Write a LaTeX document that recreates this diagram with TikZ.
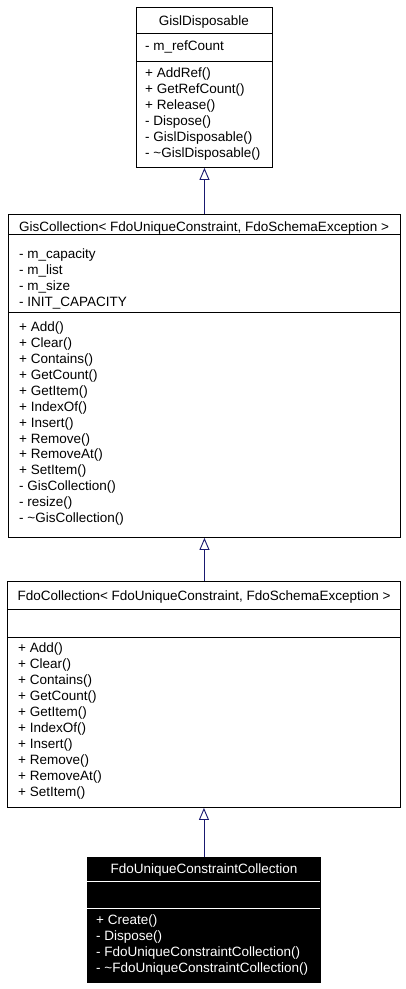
\documentclass[tikz,border=0pt]{standalone}
\usepackage{fontspec}
\setmainfont{Liberation Sans}
\usetikzlibrary{arrows.meta}
\definecolor{edgecol}{HTML}{191970}
\tikzset{
  box/.style={draw=black, line width=0.9pt, inner sep=0pt, anchor=north west},
  dbox/.style={draw=black, fill=black, line width=0.9pt, inner sep=0pt, anchor=north west},
  ttl/.style={font=\fontsize{13.5}{15.9}\selectfont, inner sep=0pt, anchor=base},
  mem/.style={font=\fontsize{13.5}{15.9}\selectfont, inner sep=0pt, anchor=north west, align=left},
  memw/.style={font=\fontsize{13.5}{16}\selectfont, inner sep=0pt, anchor=north west, align=left},
  inh/.style={draw=edgecol, line width=0.9pt, -{Triangle[open, length=12pt, width=10pt, line width=0.9pt]}}
}
\begin{document}
\begin{tikzpicture}[x=1pt,y=-1pt]
\useasboundingbox (0,0) rectangle (405,989);
% Box 1
\node[box, minimum width=136pt, minimum height=160pt] (b1) at (136,7) {};
\draw[line width=0.9pt] (136,33) -- (272,33) (136,61) -- (272,61);
\node[ttl] (b1t) at (204,25) {GislDisposable};
\node[mem] (b1a) at (145,39.4) {\strut- m\_refCount};
\node[mem] (b1m) at (145,66.4) {\strut+ AddRef()\\+ GetRefCount()\\+ Release()\\- Dispose()\\- GislDisposable()\\- \textasciitilde GislDisposable()};
% Box 2
\node[box, minimum width=392pt, minimum height=323pt] (b2) at (8,214) {};
\draw[line width=0.9pt] (8,234) -- (400,234) (8,312) -- (400,312);
\node[ttl] (b2t) at (204,231) {GisCollection< FdoUniqueConstraint, FdoSchemaException >};
\node[mem] (b2a) at (19,247.6) {\strut- m\_capacity\\- m\_list\\- m\_size\\- INIT\_CAPACITY};
\node[mem] (b2m) at (19,320.4) {\strut+ Add()\\+ Clear()\\+ Contains()\\+ GetCount()\\+ GetItem()\\+ IndexOf()\\+ Insert()\\+ Remove()\\+ RemoveAt()\\+ SetItem()\\- GisCollection()\\- resize()\\- \textasciitilde GisCollection()};
% Box 3
\node[box, minimum width=393pt, minimum height=226pt] (b3) at (7,581) {};
\draw[line width=0.9pt] (7,609) -- (400,609) (7,637) -- (400,637);
\node[ttl] (b3t) at (204,600) {FdoCollection< FdoUniqueConstraint, FdoSchemaException >};
\node[memw] (b3m) at (18,641.3) {\strut+ Add()\\+ Clear()\\+ Contains()\\+ GetCount()\\+ GetItem()\\+ IndexOf()\\+ Insert()\\+ Remove()\\+ RemoveAt()\\+ SetItem()};
% Box 4
\node[dbox, minimum width=233pt, minimum height=125pt] (b4) at (87,857) {};
\draw[white, line width=0.9pt] (87,881) -- (320,881) (87,908) -- (320,908);
\node[ttl, text=white] (b4t) at (204,873) {FdoUniqueConstraintCollection};
\node[memw, text=white] (b4m) at (96,913.3) {\strut+ Create()\\- Dispose()\\- FdoUniqueConstraintCollection()\\- \textasciitilde FdoUniqueConstraintCollection()};
% Inheritance
\draw[inh] (b2.north -| b1.south) -- (b1.south);
\draw[inh] (b3.north -| b1.south) -- (b2.south -| b1.south);
\draw[inh] (b4.north) -- (b3.south -| b4.north);
\end{tikzpicture}
\end{document}
